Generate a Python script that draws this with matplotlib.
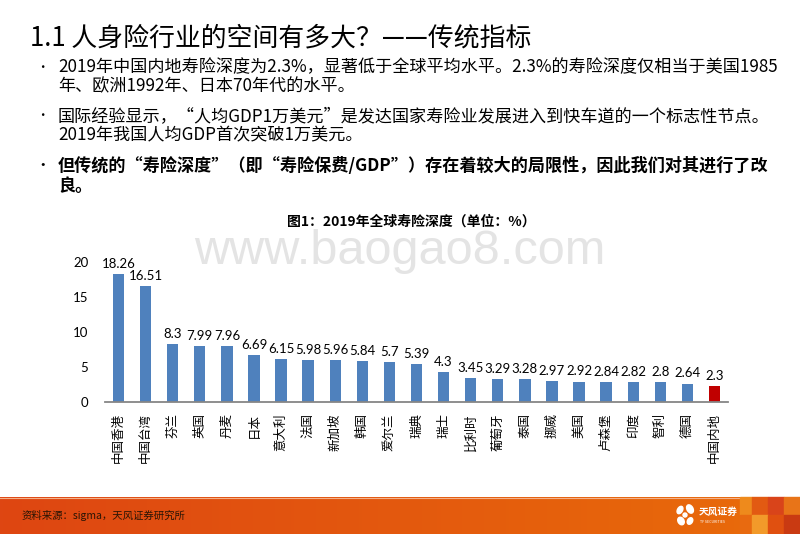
import numpy as np
import matplotlib.pyplot as plt
from matplotlib.patches import Rectangle, Ellipse

plt.rcParams['font.family'] = ['Noto Sans CJK SC', 'DejaVu Sans']

countries = ["中国香港", "中国台湾", "芬兰", "英国", "丹麦", "日本", "意大利", "法国",
             "新加坡", "韩国", "爱尔兰", "瑞典", "瑞士", "比利时", "葡萄牙", "泰国",
             "挪威", "美国", "卢森堡", "印度", "智利", "德国", "中国内地"]
depth = [18.26, 16.51, 8.3, 7.99, 7.96, 6.69, 6.15, 5.98, 5.96, 5.84, 5.7, 5.39,
         4.3, 3.45, 3.29, 3.28, 2.97, 2.92, 2.84, 2.82, 2.8, 2.64, 2.3]
depth_labels = ["18.26", "16.51", "8.3", "7.99", "7.96", "6.69", "6.15", "5.98", "5.96",
                "5.84", "5.7", "5.39", "4.3", "3.45", "3.29", "3.28", "2.97", "2.92",
                "2.84", "2.82", "2.8", "2.64", "2.3"]
y_ticks = [0, 5, 10, 15, 20]

title = "1.1 人身险行业的空间有多大？——传统指标"
bullets = [
    ("2019年中国内地寿险深度为2.3%，显著低于全球平均水平。2.3%的寿险深度仅相当于美国1985",
     "年、欧洲1992年、日本70年代的水平。", "normal"),
    ("国际经验显示，“人均GDP1万美元”是发达国家寿险业发展进入到快车道的一个标志性节点。",
     "2019年我国人均GDP首次突破1万美元。", "normal"),
    ("但传统的“寿险深度”（即“寿险保费/GDP”）存在着较大的局限性，因此我们对其进行了改",
     "良。", "bold"),
]
chart_title = "图1：2019年全球寿险深度（单位：%）"
source = "资料来源：sigma，天风证券研究所"

W, H = 800, 534
fig = plt.figure(figsize=(8, 5.34), dpi=100)


def fx(x):
    return x / W


def fy(y):
    return 1 - y / H


# slide background pieces
bg = fig.add_axes([0, 0, 1, 1], zorder=-5)
bg.set_xlim(0, W)
bg.set_ylim(H, 0)
bg.axis('off')

# footer gradient bar
grad = np.linspace(0, 1, 256)[None, :]
c0 = np.array([222, 70, 18]) / 255
c1 = np.array([233, 108, 10]) / 255
img = c0[None, None, :] * (1 - grad[..., None]) + c1[None, None, :] * grad[..., None]
bg.imshow(img, extent=[0, W, H, 497], aspect='auto', zorder=0)
bg.plot([0, W], [497.5, 497.5], color='#f3b08a', lw=0.8, zorder=1)
# blocks at right edge
blocks = [(740, 497, 12, 18, '#ee8a1c'), (752, 497, 16, 18, '#e25a12'),
          (768, 497, 16, 18, '#d9441a'), (784, 497, 16, 18, '#e87418'),
          (740, 515, 12, 19, '#e86a10'), (752, 515, 16, 19, '#f29a2a'),
          (768, 515, 16, 19, '#e05010'), (784, 515, 16, 19, '#c93a12')]
for bx, by, bw, bh, bc in blocks:
    bg.add_patch(Rectangle((bx, by), bw, bh, color=bc, zorder=2))

# logo
for ex, ey, ew, eh, ang in [(680, 510, 5, 8, 30), (690, 509, 6, 9, -30),
                            (681, 521, 6, 8, -30), (690, 521, 5, 7, 30), (685, 515, 4, 4, 0)]:
    bg.add_patch(Ellipse((ex, ey), ew, eh, angle=ang, color='white', zorder=3))
fig.text(fx(699), fy(512), "天风证券", color='white', fontsize=7, fontweight='bold',
         va='center', ha='left')
fig.text(fx(700), fy(522), "TF SECURITIES", color='white', fontsize=2.6,
         va='center', ha='left')

fig.text(fx(22), fy(515), source, fontsize=7.5, color='#2a1505', va='center', ha='left')

# headline and bullets
fig.text(fx(30), fy(38), title, fontsize=18.6, fontweight='medium', va='center', ha='left')
line_y = [(67, 86), (116, 135), (166, 186)]
for (l1, l2, wt), (y1, y2) in zip(bullets, line_y):
    fig.text(fx(36), fy(y1), "•", fontsize=9, va='center', ha='left', fontweight=wt)
    fig.text(fx(58), fy(y1), l1, fontsize=12.3, va='center', ha='left', fontweight=wt)
    fig.text(fx(58), fy(y2), l2, fontsize=12.3, va='center', ha='left', fontweight=wt)

# watermark
fig.text(fx(400), fy(252), "www.baogao8.com", fontsize=35, color='#e4e4e4',
         family='Liberation Sans', va='center', ha='center', zorder=0)

fig.text(fx(411), fy(222), chart_title, fontsize=10, fontweight='bold',
         va='center', ha='center')

# chart
ax = fig.add_axes([fx(105), fy(402), (728 - 105) / W, (402 - 262) / H])
x = np.arange(len(countries))
colors = ['#4f81bd'] * (len(countries) - 1) + ['#c00000']
bars = ax.bar(x, depth, width=0.42, color=colors, zorder=2)
for xi, v, lab in zip(x, depth, depth_labels):
    ax.annotate(lab, (xi, v), xytext=(0, 3), textcoords='offset points',
                ha='center', va='bottom', fontsize=9.5, family='Lato')
ax.set_xlim(-0.5, len(countries) - 0.5)
ax.set_ylim(0, 20)
ax.set_yticks(y_ticks)
ax.set_yticklabels([str(t) for t in y_ticks], family='Lato', fontsize=9.5)
ax.set_xticks(x)
ax.set_xticklabels(countries, rotation=90, fontsize=9, va='top')
ax.tick_params(axis='both', length=0, pad=8)
ax.tick_params(axis='y', pad=12)
for s in ['top', 'right', 'left']:
    ax.spines[s].set_visible(False)
ax.spines['bottom'].set_color('#868686')
ax.spines['bottom'].set_linewidth(1.3)
ax.patch.set_alpha(0)

fig.savefig("out.png", dpi=100)
